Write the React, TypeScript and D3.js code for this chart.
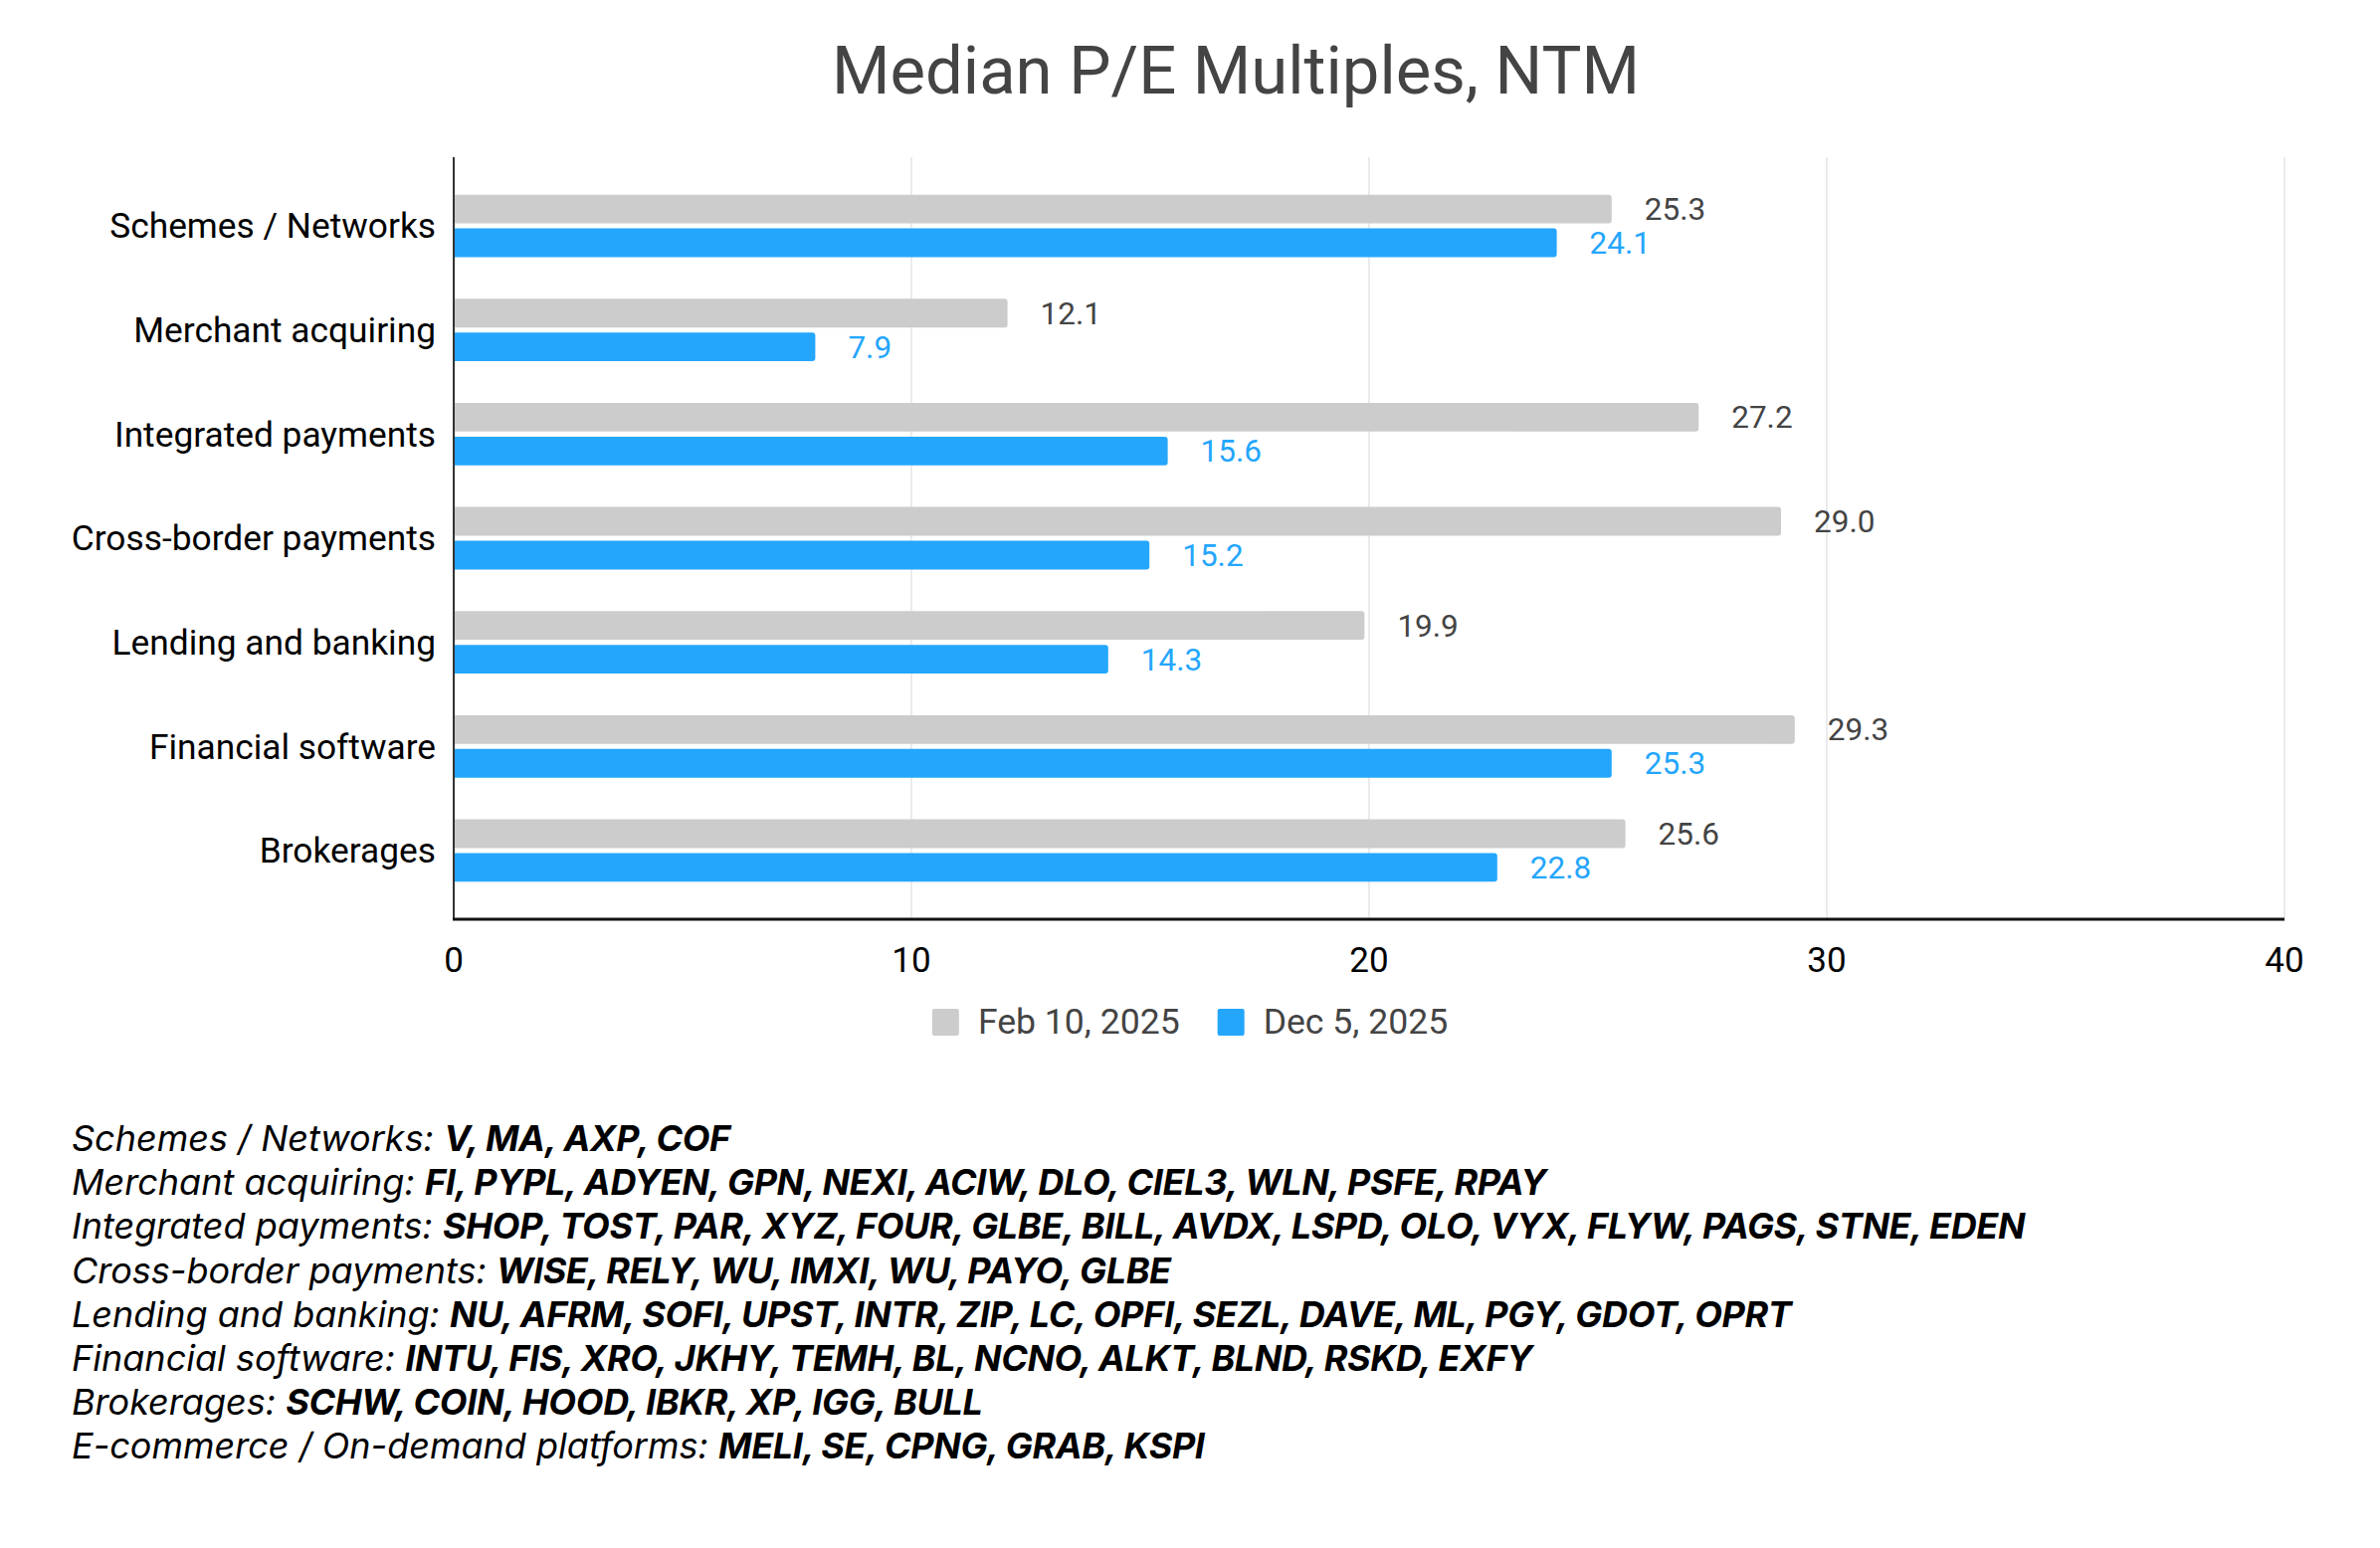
import { useEffect, useRef } from 'react';
import * as d3 from 'd3';

const categories = [
    'Schemes / Networks',
    'Merchant acquiring',
    'Integrated payments',
    'Cross-border payments',
    'Lending and banking',
    'Financial software',
    'Brokerages',
];
const seriesNames = ['Feb 10, 2025', 'Dec 5, 2025'];
const feb10 = [25.3, 12.1, 27.2, 29.0, 19.9, 29.3, 25.6];
const dec5 = [24.1, 7.9, 15.6, 15.2, 14.3, 25.3, 22.8];
const xTicks = [0, 10, 20, 30, 40];

const footnoteGroups = [
    'Schemes / Networks:',
    'Merchant acquiring:',
    'Integrated payments:',
    'Cross-border payments:',
    'Lending and banking:',
    'Financial software:',
    'Brokerages:',
    'E-commerce / On-demand platforms:',
];
const footnoteTickers = [
    'V, MA, AXP, COF',
    'FI, PYPL, ADYEN, GPN, NEXI, ACIW, DLO, CIEL3, WLN, PSFE, RPAY',
    'SHOP, TOST, PAR, XYZ, FOUR, GLBE, BILL, AVDX, LSPD, OLO, VYX, FLYW, PAGS, STNE, EDEN',
    'WISE, RELY, WU, IMXI, WU, PAYO, GLBE',
    'NU, AFRM, SOFI, UPST, INTR, ZIP, LC, OPFI, SEZL, DAVE, ML, PGY, GDOT, OPRT',
    'INTU, FIS, XRO, JKHY, TEMH, BL, NCNO, ALKT, BLND, RSKD, EXFY',
    'SCHW, COIN, HOOD, IBKR, XP, IGG, BULL',
    'MELI, SE, CPNG, GRAB, KSPI',
];

const width = 2392;
const height = 1556;
const plot = { left: 456, right: 2296, top: 158, bottom: 924 };
const colors = ['#cccccc', '#24a6fd'];
const labelColors = ['#444444', '#24a6fd'];
const font = 'Roboto, sans-serif';

// bar with only the right end rounded
const barPath = (x0: number, x1: number, y: number, h: number, r: number) => {
    const rr = Math.min(r, (x1 - x0) / 2, h / 2);
    return `M${x0},${y}H${x1 - rr}Q${x1},${y} ${x1},${y + rr}V${y + h - rr}Q${x1},${y + h} ${x1 - rr},${y + h}H${x0}Z`;
};

const App = () => {
    const svgRef = useRef<SVGSVGElement>(null);

    useEffect(() => {
        const svg = d3.select(svgRef.current);
        svg.selectAll('*').remove();

        const x = d3.scaleLinear().domain([0, 40]).range([plot.left, plot.right]);
        const y0 = d3
            .scaleBand()
            .domain(categories)
            .range([plot.top, plot.bottom])
            .paddingInner(0.4)
            .paddingOuter(0.36);
        const y1 = d3
            .scaleBand()
            .domain(seriesNames)
            .range([0, y0.bandwidth()])
            .paddingInner(0.15);

        svg.append('rect').attr('width', width).attr('height', height).attr('fill', '#ffffff');

        // title
        svg.append('text')
            .attr('x', 1242)
            .attr('y', 94)
            .attr('text-anchor', 'middle')
            .attr('font-family', font)
            .attr('font-size', 67)
            .attr('fill', '#444444')
            .text('Median P/E Multiples, NTM');

        // gridlines
        svg.append('g')
            .selectAll('line')
            .data(xTicks.slice(1))
            .join('line')
            .attr('x1', d => x(d))
            .attr('x2', d => x(d))
            .attr('y1', plot.top)
            .attr('y2', plot.bottom)
            .attr('stroke', '#ebebeb')
            .attr('stroke-width', 2);

        // bars
        const series = [feb10, dec5];
        const groups = svg
            .append('g')
            .selectAll('g')
            .data(categories)
            .join('g')
            .attr('transform', d => `translate(0,${y0(d)})`);

        seriesNames.forEach((name, si) => {
            groups
                .append('path')
                .attr('d', (_, i) =>
                    barPath(x(0), x(series[si][i]), y1(name) ?? 0, y1.bandwidth(), 3)
                )
                .attr('fill', colors[si]);
            groups
                .append('text')
                .attr('x', (_, i) => x(series[si][i]) + 33)
                .attr('y', (y1(name) ?? 0) + y1.bandwidth() / 2)
                .attr('dy', '0.35em')
                .attr('font-family', font)
                .attr('font-size', 31.5)
                .attr('fill', labelColors[si])
                .text((_, i) => series[si][i].toFixed(1));
        });

        // category labels
        svg.append('g')
            .selectAll('text')
            .data(categories)
            .join('text')
            .attr('x', plot.left - 18)
            .attr('y', d => (y0(d) ?? 0) + y0.bandwidth() / 2)
            .attr('dy', '0.35em')
            .attr('text-anchor', 'end')
            .attr('font-family', font)
            .attr('font-size', 35.3)
            .attr('fill', '#000000')
            .text(d => d);

        // axes lines
        svg.append('line')
            .attr('x1', plot.left)
            .attr('x2', plot.left)
            .attr('y1', plot.top)
            .attr('y2', plot.bottom)
            .attr('stroke', '#333333')
            .attr('stroke-width', 2);
        svg.append('line')
            .attr('x1', plot.left - 1)
            .attr('x2', plot.right)
            .attr('y1', plot.bottom)
            .attr('y2', plot.bottom)
            .attr('stroke', '#111111')
            .attr('stroke-width', 3);

        // x tick labels
        svg.append('g')
            .selectAll('text')
            .data(xTicks)
            .join('text')
            .attr('x', d => x(d))
            .attr('y', 977)
            .attr('text-anchor', 'middle')
            .attr('font-family', font)
            .attr('font-size', 35)
            .attr('fill', '#000000')
            .text(d => d);

        // legend
        const legend = svg.append('g');
        const items = legend
            .selectAll('g')
            .data(seriesNames)
            .join('g');
        items
            .append('rect')
            .attr('y', 1014)
            .attr('width', 27)
            .attr('height', 27)
            .attr('rx', 2)
            .attr('fill', (_, i) => colors[i]);
        items
            .append('text')
            .attr('x', 46)
            .attr('y', 1039)
            .attr('font-family', font)
            .attr('font-size', 35.6)
            .attr('fill', '#444444')
            .text(d => d);
        let offset = 0;
        const itemWidths: number[] = [];
        items.each(function () {
            const w = (this as SVGGElement).getBBox().width;
            itemWidths.push(w);
        });
        const total = d3.sum(itemWidths) + 38 * (itemWidths.length - 1);
        const start = width / 2 - total / 2;
        items.attr('transform', (_, i) => {
            const t = `translate(${start + offset},0)`;
            offset += itemWidths[i] + 38;
            return t;
        });

        // footnote
        const notes = svg
            .append('g')
            .selectAll('text')
            .data(footnoteGroups)
            .join('text')
            .attr('x', 72)
            .attr('y', (_, i) => 1157 + i * 44.2)
            .attr('font-family', 'Inter, Roboto, sans-serif')
            .attr('font-size', 36)
            .attr('font-style', 'italic')
            .attr('fill', '#000000');
        notes.append('tspan').text(d => d + ' ');
        notes
            .append('tspan')
            .attr('font-weight', 'bold')
            .attr('letter-spacing', -0.35)
            .text((_, i) => footnoteTickers[i]);
    }, []);

    return (
        <svg
            ref={svgRef}
            width={width}
            height={height}
            style={{ position: 'absolute', left: 0, top: 0 }}
        ></svg>
    );
};

export default App;
